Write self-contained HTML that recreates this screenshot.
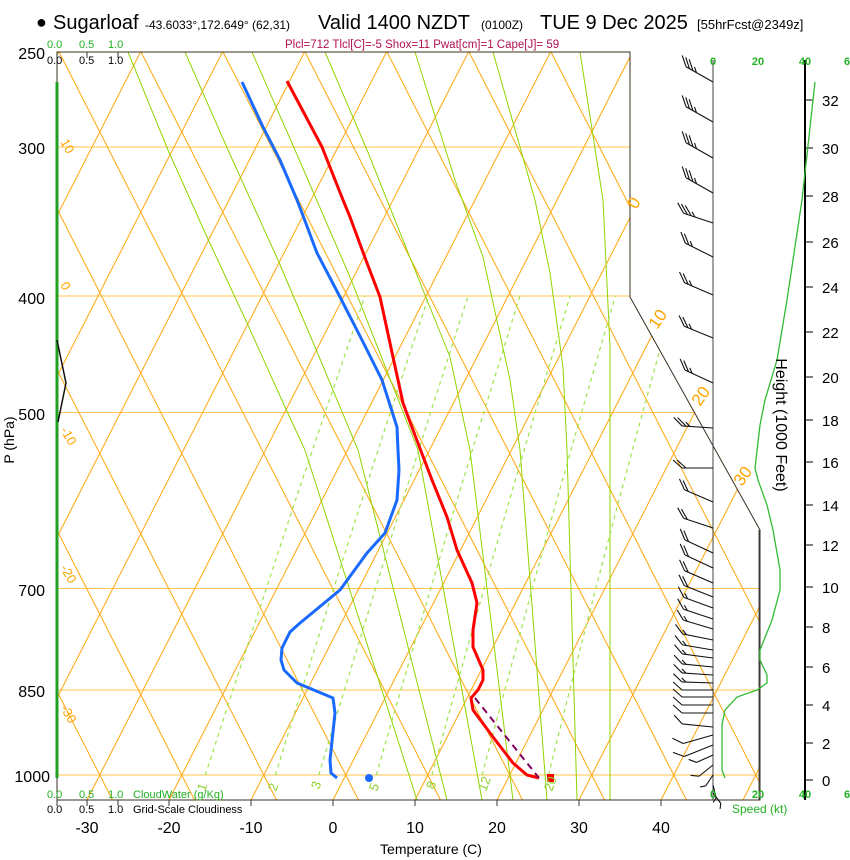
<!DOCTYPE html>
<html><head><meta charset="utf-8"><style>
html,body{margin:0;padding:0;background:#fff;}
svg{display:block;font-family:"Liberation Sans",sans-serif;}
</style></head><body>
<svg width="850" height="860" viewBox="0 0 850 860" xmlns="http://www.w3.org/2000/svg" xmlns:xlink="http://www.w3.org/1999/xlink">
<defs>
<clipPath id="fr"><polygon points="57,52 630,52 630,297 760,530 760,800 57,800"/></clipPath>
<line id="it" x1="327.9" y1="810" x2="720.6" y2="40" stroke="#ffad1f" stroke-width="1.1"/>
<line id="da" x1="363.6" y1="810" x2="-29.1" y2="40" stroke="#ffad1f" stroke-width="1.1"/>
<g id="b35" stroke="#111" stroke-width="1.1"><line x1="0" y1="0" x2="31" y2="0"/><line x1="31" y1="0" x2="39.9" y2="8"/><line x1="27" y1="0" x2="35.9" y2="8"/><line x1="23" y1="0" x2="31.9" y2="8"/><line x1="19" y1="0" x2="23.5" y2="4"/></g>
<g id="b25" stroke="#111" stroke-width="1.1"><line x1="0" y1="0" x2="31" y2="0"/><line x1="31" y1="0" x2="39.9" y2="8"/><line x1="27" y1="0" x2="35.9" y2="8"/><line x1="23" y1="0" x2="27.5" y2="4"/></g>
<g id="b20" stroke="#111" stroke-width="1.1"><line x1="0" y1="0" x2="31" y2="0"/><line x1="31" y1="0" x2="39.9" y2="8"/><line x1="27" y1="0" x2="35.9" y2="8"/></g>
<g id="b15" stroke="#111" stroke-width="1.1"><line x1="0" y1="0" x2="31" y2="0"/><line x1="31" y1="0" x2="39.9" y2="8"/><line x1="27" y1="0" x2="31.5" y2="4"/></g>
<g id="b10" stroke="#111" stroke-width="1.1"><line x1="0" y1="0" x2="31" y2="0"/><line x1="31" y1="0" x2="39.9" y2="8"/></g>
<g id="s10" stroke="#111" stroke-width="1.1"><line x1="0" y1="0" x2="18" y2="0"/><line x1="18" y1="0" x2="24" y2="6"/></g>
<g id="s05" stroke="#111" stroke-width="1.1"><line x1="0" y1="0" x2="13" y2="0"/><line x1="13" y1="0" x2="17" y2="4"/></g>
</defs>
<rect width="850" height="860" fill="#fff"/>
<g clip-path="url(#fr)">
<g stroke="#ffc44a" stroke-width="1">
<line x1="57" y1="147" x2="760" y2="147"/><line x1="57" y1="296" x2="760" y2="296"/><line x1="57" y1="412.5" x2="760" y2="412.5"/><line x1="57" y1="588.5" x2="760" y2="588.5"/><line x1="57" y1="690" x2="760" y2="690"/><line x1="57" y1="775" x2="760" y2="775"/>
</g>
<use xlink:href="#it" transform="translate(-984,0)"/><use xlink:href="#it" transform="translate(-902,0)"/><use xlink:href="#it" transform="translate(-820,0)"/><use xlink:href="#it" transform="translate(-738,0)"/><use xlink:href="#it" transform="translate(-656,0)"/><use xlink:href="#it" transform="translate(-574,0)"/><use xlink:href="#it" transform="translate(-492,0)"/><use xlink:href="#it" transform="translate(-410,0)"/><use xlink:href="#it" transform="translate(-328,0)"/><use xlink:href="#it" transform="translate(-246,0)"/><use xlink:href="#it" transform="translate(-164,0)"/><use xlink:href="#it" transform="translate(-82,0)"/><use xlink:href="#it"/><use xlink:href="#it" transform="translate(82,0)"/><use xlink:href="#it" transform="translate(164,0)"/><use xlink:href="#it" transform="translate(246,0)"/><use xlink:href="#it" transform="translate(328,0)"/><use xlink:href="#it" transform="translate(410,0)"/><use xlink:href="#it" transform="translate(492,0)"/><use xlink:href="#it" transform="translate(574,0)"/><use xlink:href="#it" transform="translate(656,0)"/><use xlink:href="#it" transform="translate(738,0)"/><use xlink:href="#it" transform="translate(820,0)"/><use xlink:href="#it" transform="translate(902,0)"/><use xlink:href="#it" transform="translate(984,0)"/>
<use xlink:href="#da" transform="translate(-984,0)"/><use xlink:href="#da" transform="translate(-902,0)"/><use xlink:href="#da" transform="translate(-820,0)"/><use xlink:href="#da" transform="translate(-738,0)"/><use xlink:href="#da" transform="translate(-656,0)"/><use xlink:href="#da" transform="translate(-574,0)"/><use xlink:href="#da" transform="translate(-492,0)"/><use xlink:href="#da" transform="translate(-410,0)"/><use xlink:href="#da" transform="translate(-328,0)"/><use xlink:href="#da" transform="translate(-246,0)"/><use xlink:href="#da" transform="translate(-164,0)"/><use xlink:href="#da" transform="translate(-82,0)"/><use xlink:href="#da"/><use xlink:href="#da" transform="translate(82,0)"/><use xlink:href="#da" transform="translate(164,0)"/><use xlink:href="#da" transform="translate(246,0)"/><use xlink:href="#da" transform="translate(328,0)"/><use xlink:href="#da" transform="translate(410,0)"/><use xlink:href="#da" transform="translate(492,0)"/><use xlink:href="#da" transform="translate(574,0)"/><use xlink:href="#da" transform="translate(656,0)"/><use xlink:href="#da" transform="translate(738,0)"/><use xlink:href="#da" transform="translate(820,0)"/><use xlink:href="#da" transform="translate(902,0)"/><use xlink:href="#da" transform="translate(984,0)"/>
<g fill="none" stroke="#8fd400" stroke-width="1">
<polyline points="128,52 168,150 207,237 247,323 285,407 305,450 417,800"/>
<polyline points="185,52 228,150 278,260 315,347 358,450 447,800"/>
<polyline points="252,52 295,150 350,277 418,450 482,800"/>
<polyline points="325,52 367,150 427,300 450,357 470,450 513,800"/>
<polyline points="415,52 455,180 483,257 510,380 520,450 547,800"/>
<polyline points="493,52 535,200 550,273 563,367 567,450 577,800"/>
<polyline points="580,52 603,200 610,347 610,800"/>
</g>
<g fill="none" stroke="#9ee34a" stroke-width="1.2" stroke-dasharray="4,4">
<polyline points="205.3,775 223.2,719.9 243.3,658.3 266.3,588.5 292.9,507.8 325.2,412.5 365.1,295.8"/>
<polyline points="275.4,775 292.4,719.9 311.7,658.3 333.7,588.5 359.3,507.8 390.3,412.5 428.8,295.8"/>
<polyline points="318.8,775 335.3,719.9 354.1,658.3 375.5,588.5 400.4,507.8 430.6,412.5 468.1,295.8"/>
<polyline points="376.3,775 392.1,719.9 410.1,658.3 430.7,588.5 454.7,507.8 483.8,412.5 520,295.8"/>
<polyline points="432,775 447.1,719.9 464.4,658.3 484.1,588.5 507.2,507.8 535.2,412.5 570.2,295.8"/>
<polyline points="482.2,775 496.7,719.9 513.4,658.3 532.3,588.5 554.6,507.8 581.6,412.5 615.4,295.8"/>
<polyline points="548.5,775 562.2,719.9 577.8,658.3 595.8,588.5 616.9,507.8 642.6,412.5 674.8,295.8"/>
</g>
</g>
<polygon points="57,52 630,52 630,297 760,530 760,800 57,800" fill="none" stroke="#3a3020" stroke-width="1"/>
<!-- data -->
<line x1="57" y1="82" x2="57" y2="778" stroke="#22a022" stroke-width="3"/>
<polyline points="57,340 66,383 58,422" fill="none" stroke="#111" stroke-width="1.5"/>
<polyline points="287,81 322,147 343,200 350,217 367,263 380,297 393,357 403,403 413,430 432,480 447,517 457,550 472,583 477,603 473,630 473,647 483,670 483,680 478,690 471,698 473,710 493,737 513,763 527,775 539,778" fill="none" stroke="#ff0000" stroke-width="3" stroke-linejoin="round"/>
<polyline points="242,82 263,127 280,160 297,200 302,213 317,253 340,297 362,340 382,380 397,427 398,450 399,470 397,500 385,533 367,553 340,590 300,623 290,632 282,648 281,660 284,670 297,683 333,698 335,713 330,760 331,773 337,778" fill="none" stroke="#1a6aff" stroke-width="3" stroke-linejoin="round"/>
<line x1="475" y1="698" x2="539" y2="778" stroke="#800060" stroke-width="2" stroke-dasharray="7,5"/>
<circle cx="369" cy="778" r="4" fill="#1a6aff"/>
<rect x="547" y="774" width="7" height="8" fill="#ff0000"/>
<!-- right axes -->
<line x1="713" y1="60" x2="713" y2="800" stroke="#444" stroke-width="1"/>
<line x1="759" y1="530" x2="759" y2="800" stroke="#444" stroke-width="1"/>
<line x1="805" y1="60" x2="805" y2="800" stroke="#000" stroke-width="2"/>
<g stroke="#000" stroke-width="1">
<line x1="805" y1="780" x2="813" y2="780"/><line x1="805" y1="743" x2="813" y2="743"/><line x1="805" y1="705" x2="813" y2="705"/><line x1="805" y1="667" x2="813" y2="667"/><line x1="805" y1="627" x2="813" y2="627"/><line x1="805" y1="587" x2="813" y2="587"/><line x1="805" y1="545" x2="813" y2="545"/><line x1="805" y1="505" x2="813" y2="505"/><line x1="805" y1="462" x2="813" y2="462"/><line x1="805" y1="420" x2="813" y2="420"/><line x1="805" y1="377" x2="813" y2="377"/><line x1="805" y1="332" x2="813" y2="332"/><line x1="805" y1="287" x2="813" y2="287"/><line x1="805" y1="242" x2="813" y2="242"/><line x1="805" y1="196" x2="813" y2="196"/><line x1="805" y1="148" x2="813" y2="148"/><line x1="805" y1="100" x2="813" y2="100"/>
</g>
<g font-size="15">
<text x="822" y="786">0</text><text x="822" y="749">2</text><text x="822" y="711">4</text><text x="822" y="673">6</text><text x="822" y="633">8</text><text x="822" y="593">10</text><text x="822" y="551">12</text><text x="822" y="511">14</text><text x="822" y="468">16</text><text x="822" y="426">18</text><text x="822" y="383">20</text><text x="822" y="338">22</text><text x="822" y="293">24</text><text x="822" y="248">26</text><text x="822" y="202">28</text><text x="822" y="154">30</text><text x="822" y="106">32</text>
</g>
<polyline points="815,82 802,200 793,260 787,300 777,360 765,400 760,425 755,468 758,480 767,505 773,530 780,570 780,590 772,620 760,650 760,660 767,675 767,683 757,690 737,697 725,710 722,725 722,770 725,778" fill="none" stroke="#33bb33" stroke-width="1.3"/>
<!-- wind barbs -->
<use xlink:href="#b35" transform="translate(713,82) rotate(-150.5)"/>
<use xlink:href="#b35" transform="translate(713,122) rotate(-150.5)"/>
<use xlink:href="#b35" transform="translate(713,158) rotate(-150.5)"/>
<use xlink:href="#b35" transform="translate(713,193) rotate(-150.5)"/>
<use xlink:href="#b35" transform="translate(713,223) rotate(-161.6)"/>
<use xlink:href="#b25" transform="translate(713,257) rotate(-153.4)"/>
<use xlink:href="#b25" transform="translate(713,295) rotate(-156.8)"/>
<use xlink:href="#b25" transform="translate(713,338) rotate(-157.8)"/>
<use xlink:href="#b25" transform="translate(713,383) rotate(-155.1)"/>
<use xlink:href="#b25" transform="translate(713,428) rotate(-176.2)"/>
<use xlink:href="#b20" transform="translate(713,468) rotate(180)"/>
<use xlink:href="#b20" transform="translate(713,502) rotate(-156.8)"/>
<use xlink:href="#b20" transform="translate(713,528) rotate(-161.6)"/>
<use xlink:href="#b20" transform="translate(713,553) rotate(-155)"/>
<use xlink:href="#b20" transform="translate(713,568) rotate(-155)"/>
<use xlink:href="#b20" transform="translate(713,583) rotate(-156.6)"/>
<use xlink:href="#b20" transform="translate(713,597) rotate(-158.2)"/>
<use xlink:href="#b15" transform="translate(713,608) rotate(-159.9)"/>
<use xlink:href="#b15" transform="translate(713,619) rotate(-161.6)"/>
<use xlink:href="#b15" transform="translate(713,629) rotate(-163.3)"/>
<use xlink:href="#b15" transform="translate(713,640) rotate(-168.7)"/>
<use xlink:href="#b15" transform="translate(713,650) rotate(-170.5)"/>
<use xlink:href="#b15" transform="translate(713,658) rotate(-172.4)"/>
<use xlink:href="#b15" transform="translate(713,667) rotate(-174.3)"/>
<use xlink:href="#b15" transform="translate(713,675) rotate(-176.2)"/>
<use xlink:href="#b15" transform="translate(713,683) rotate(-178.1)"/>
<use xlink:href="#b10" transform="translate(713,690) rotate(180)"/>
<use xlink:href="#b10" transform="translate(713,697) rotate(180)"/>
<use xlink:href="#b10" transform="translate(713,705) rotate(180)"/>
<use xlink:href="#b10" transform="translate(713,713) rotate(180)"/>
<use xlink:href="#b10" transform="translate(713,727) rotate(-174.3)"/>
<use xlink:href="#b10" transform="translate(713,735) rotate(164.1)"/>
<use xlink:href="#b10" transform="translate(713,745) rotate(158.2)"/>
<use xlink:href="#s10" transform="translate(713,755) rotate(155.6)"/>
<use xlink:href="#s10" transform="translate(713,765) rotate(141.3)"/>
<use xlink:href="#s05" transform="translate(713,775) rotate(123.7)"/>
<use xlink:href="#s05" transform="translate(713,785) rotate(76)"/>
<use xlink:href="#s05" transform="translate(713,793) rotate(53)"/>
<!-- bottom ticks -->
<g stroke="#333" stroke-width="1">
<line x1="87" y1="800" x2="87" y2="806"/><line x1="169" y1="800" x2="169" y2="806"/><line x1="251" y1="800" x2="251" y2="806"/><line x1="333" y1="800" x2="333" y2="806"/><line x1="415" y1="800" x2="415" y2="806"/><line x1="497" y1="800" x2="497" y2="806"/><line x1="579" y1="800" x2="579" y2="806"/><line x1="661" y1="800" x2="661" y2="806"/>
<line x1="57" y1="800" x2="57" y2="806"/><line x1="118" y1="800" x2="118" y2="806"/><line x1="57" y1="52" x2="57" y2="58"/><line x1="87" y1="52" x2="87" y2="58"/><line x1="118" y1="52" x2="118" y2="58"/>
</g>
<!-- Title -->
<text x="36" y="28" font-size="18">●</text>
<text x="53" y="29" font-size="20">Sugarloaf</text>
<text x="145" y="29" font-size="12">-43.6033°,172.649° (62,31)</text>
<text x="318" y="29" font-size="20">Valid 1400 NZDT</text>
<text x="481" y="29" font-size="12">(0100Z)</text>
<text x="540" y="29" font-size="20">TUE 9 Dec 2025</text>
<text x="697" y="29" font-size="13">[55hrFcst@2349z]</text>
<text x="285" y="48" font-size="11.5" fill="#b0104f">Plcl=712 Tlcl[C]=-5 Shox=11 Pwat[cm]=1 Cape[J]= 59</text>
<g font-size="11" fill="#22b022"><text x="47" y="48">0.0</text><text x="79" y="48">0.5</text><text x="108" y="48">1.0</text></g>
<g font-size="11" fill="#000"><text x="47" y="64">0.0</text><text x="79" y="64">0.5</text><text x="108" y="64">1.0</text></g>
<g font-size="11" fill="#22b022"><text x="47" y="798">0.0</text><text x="79" y="798">0.5</text><text x="108" y="798">1.0</text><text x="133" y="798">CloudWater (g/Kg)</text></g>
<g font-size="11" fill="#000"><text x="47" y="813">0.0</text><text x="79" y="813">0.5</text><text x="108" y="813">1.0</text><text x="133" y="813">Grid-Scale Cloudiness</text></g>
<g font-size="16" text-anchor="end">
<text x="45" y="59">250</text><text x="45" y="154">300</text><text x="45" y="304">400</text><text x="45" y="420">500</text><text x="45" y="596">700</text><text x="45" y="697">850</text><text x="50" y="782">1000</text>
</g>
<text transform="translate(14,440) rotate(-90)" font-size="14" text-anchor="middle">P (hPa)</text>
<g font-size="16" text-anchor="middle">
<text x="87" y="833">-30</text><text x="169" y="833">-20</text><text x="251" y="833">-10</text><text x="333" y="833">0</text><text x="415" y="833">10</text><text x="497" y="833">20</text><text x="579" y="833">30</text><text x="661" y="833">40</text>
</g>
<text x="431" y="854" font-size="14" text-anchor="middle">Temperature (C)</text>
<g font-size="11" fill="#22b022" text-anchor="middle" font-weight="bold">
<text x="713" y="65">0</text><text x="758" y="65">20</text><text x="805" y="65">40</text><text x="847" y="65">6</text>
<text x="713" y="798">0</text><text x="758" y="798">20</text><text x="805" y="798">40</text><text x="847" y="798">6</text>
</g>
<text x="732" y="813" font-size="12" fill="#22b022">Speed (kt)</text>
<text transform="translate(776,425) rotate(90)" font-size="16" text-anchor="middle">Height (1000 Feet)</text>
<g font-size="13" fill="#ffa500">
<text transform="translate(60,142) rotate(60)">10</text>
<text transform="translate(60,285) rotate(60)">0</text>
<text transform="translate(60,430) rotate(60)">-10</text>
<text transform="translate(60,568) rotate(60)">-20</text>
<text transform="translate(60,708) rotate(60)">-30</text>
</g>
<g font-size="17" fill="#ffa500">
<text transform="translate(636,210) rotate(-55)">0</text>
<text transform="translate(657,330) rotate(-55)">10</text>
<text transform="translate(700,407) rotate(-55)">20</text>
<text transform="translate(742,487) rotate(-55)">30</text>
</g>
<g font-size="13" fill="#8fd22a">
<text transform="translate(205,792) rotate(-70)">1</text>
<text transform="translate(276,792) rotate(-70)">2</text>
<text transform="translate(319,790) rotate(-70)">3</text>
<text transform="translate(377,792) rotate(-70)">5</text>
<text transform="translate(434,790) rotate(-70)">8</text>
<text transform="translate(486,792) rotate(-70)">12</text>
<text transform="translate(552,792) rotate(-70)">20</text>
</g>
</svg>
</body></html>
